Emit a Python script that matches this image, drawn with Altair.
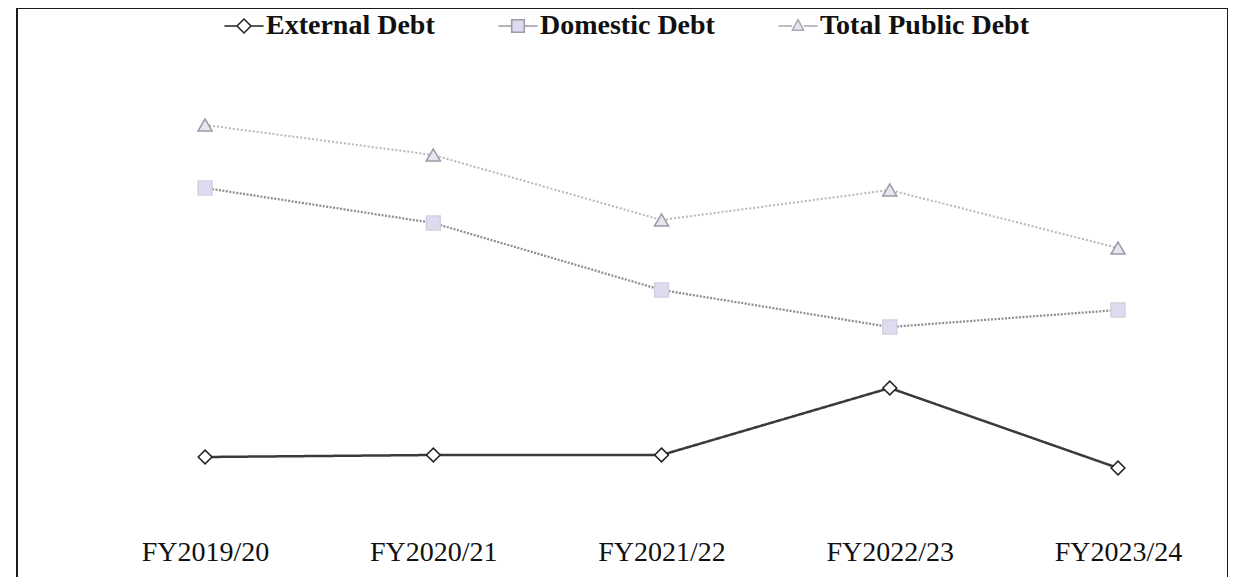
import altair as alt
import pandas as pd

years = ["FY2019/20", "FY2020/21", "FY2021/22", "FY2022/23", "FY2023/24"]
series_names = ["External Debt", "Domestic Debt", "Total Public Debt"]
external = [6.8, 7.0, 7.0, 13.7, 5.7]
domestic = [33.7, 30.2, 23.5, 19.8, 21.5]
total = [40.0, 37.0, 30.5, 33.5, 27.7]

rows = []
for name, vals in zip(series_names, [external, domestic, total]):
    for yr, v in zip(years, vals):
        rows.append({"year": yr, "series": name, "value": v})
df = pd.DataFrame(rows)

line_colors = ["#3a3a3a", "#8e8e8e", "#b8b8b8"]
line_dash = [[1, 0], [2, 1.5], [2, 2]]
line_width = [2.5, 2.0, 1.5]
marker_shapes = ["diamond", "square", "triangle-up"]
marker_fill = ["#ffffff", "#dcdcee", "#e6e6ef"]
marker_stroke = ["#222222", "#d2d2e4", "#9a9aaa"]
marker_size = [190, 200, 110]
legend_paths = [
    "M-2.8,0L-1,0M1,0L2.8,0M-1,0L0,-1L1,0L0,1Z",
    "M-2.8,0L-0.9,0M0.9,0L2.8,0M-0.9,-0.9L0.9,-0.9L0.9,0.9L-0.9,0.9Z",
    "M-2.8,0L-0.8,0M0.8,0L2.8,0M0,-0.9L0.8,0.6L-0.8,0.6Z",
]

x_enc = alt.X(
    "year:N",
    sort=years,
    scale=alt.Scale(type="point", padding=0.653, align=0.631),
    axis=alt.Axis(
        title=None, domain=False, ticks=False, grid=False, labelAngle=0,
        labelFont="Liberation Serif", labelFontSize=28, labelColor="#111111",
        labelPadding=13, offset=-73,
    ),
)
y_enc = alt.Y(
    "value:Q",
    scale=alt.Scale(domain=[-7.3, 51.7], nice=False, zero=False),
    axis=None,
)

def sc(rng):
    return alt.Scale(domain=series_names, range=rng)

lines = alt.Chart(df).mark_line().encode(
    x=x_enc, y=y_enc,
    stroke=alt.Stroke("series:N", scale=sc(line_colors), legend=None),
    strokeDash=alt.StrokeDash("series:N", scale=sc(line_dash), legend=None),
    strokeWidth=alt.StrokeWidth("series:N", scale=sc(line_width), legend=None),
)

points = alt.Chart(df).mark_point(opacity=1, strokeWidth=1.5).encode(
    x=x_enc, y=y_enc,
    shape=alt.Shape("series:N", scale=sc(marker_shapes), legend=None),
    fill=alt.Fill("series:N", scale=sc(marker_fill), legend=None),
    stroke=alt.Stroke("series:N", scale=sc(marker_stroke), legend=None),
    size=alt.Size("series:N", scale=sc(marker_size), legend=None),
)

leg = dict(
    title=None, orient="none", legendX=213, legendY=4, direction="horizontal",
    columns=3, columnPadding=60, labelOffset=8, labelLimit=500,
    labelFont="Liberation Serif", labelFontWeight="bold", labelFontSize=28,
    labelColor="#111111", symbolSize=196, symbolStrokeWidth=1.5,
)

legend_layer = alt.Chart(df).mark_point(opacity=1, strokeWidth=1.5).encode(
    x=alt.value(-3000), y=alt.value(-3000),
    shape=alt.Shape("series:N", scale=sc(legend_paths), legend=alt.Legend(**leg)),
    fill=alt.Fill("series:N", scale=sc(marker_fill), legend=alt.Legend(**leg)),
    stroke=alt.Stroke("series:N", scale=sc(["#222222", "#9a9aa8", "#a8a8b4"]), legend=alt.Legend(**leg)),
)

chart = alt.layer(lines, points, legend_layer).resolve_scale(
    stroke="independent", fill="independent", shape="independent",
    strokeDash="independent", strokeWidth="independent", size="independent",
).properties(
    width=1211, height=590,
    autosize=alt.AutoSizeParams(type="none"),
    padding={"left": 9, "top": 0, "right": 0, "bottom": -21},
    background="#ffffff",
).configure_view(stroke="#1a1a1a", strokeWidth=2)

chart.save("out.html", embed_options={"renderer": "svg", "actions": False})
